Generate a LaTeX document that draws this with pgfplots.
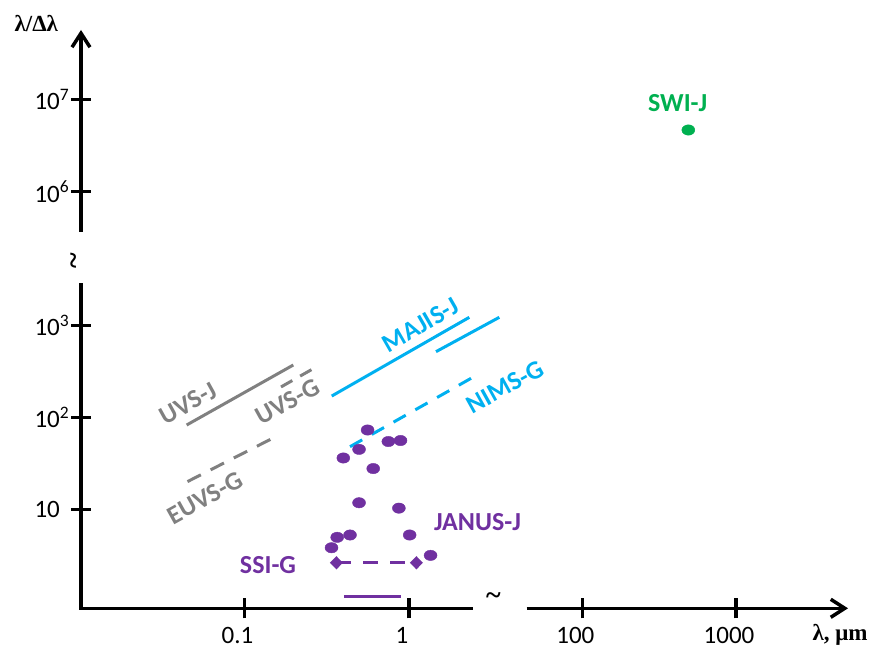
\documentclass[border=0pt]{standalone}
\usepackage{pgfplots}
\pgfplotsset{compat=1.18}
\usepackage{fontspec}
\setmainfont{Carlito}
\newfontfamily\timesf{Liberation Serif}
\usetikzlibrary{arrows.meta}
\definecolor{cgray}{RGB}{128,128,128}
\definecolor{ccyan}{RGB}{0,176,240}
\definecolor{cpurple}{RGB}{112,48,160}
\definecolor{cgreen}{RGB}{0,176,80}
\tikzset{lbl/.style={font=\fontsize{26}{30}\selectfont\bfseries, inner sep=0pt}}
\begin{document}
\begin{tikzpicture}
\path[use as bounding box] (0pt,0pt) rectangle (876pt,648pt);

% lower-left panel
\begin{axis}[scale only axis, anchor=south west, clip=false,
  xmode=log, ymode=log, xminorticks=false, yminorticks=false,
  tick align=inside, major tick length=20pt,
  tick style={line width=3.3pt, black},
  axis line style={draw=none},
  xticklabel style={font=\fontsize{25}{30}\selectfont, inner sep=0pt, anchor=center, yshift=-17pt, xshift=-7pt},
  yticklabel style={font=\fontsize{25}{30}\selectfont, inner sep=0pt, anchor=west, xshift=-36.7pt},
  at={(81pt,39.7pt)}, width=392pt, height=325pt,
  xmin=0.01014, xmax=2.449, ymin=0.848, ymax=2891,
  axis x line=bottom, axis y line=left,
  xtick={0.1,1}, xticklabels={0.1,1},
  ytick={10,100,1000}, yticklabels={10,10\textsuperscript{2},10\textsuperscript{3}},
]
\draw[line width=3.5pt] (rel axis cs:0,1) -- (rel axis cs:0,0) -- (rel axis cs:1,0);
% UVS-J
\addplot[cgray, line width=3pt] coordinates {(0.0445,83.3) (0.198,374)};
% UVS-G
\addplot[cgray, line width=3pt, dash pattern=on 13pt off 9pt] coordinates {(0.1667,216) (0.2797,365)};
% EUVS-G
\addplot[cgray, line width=3pt, dash pattern=on 15pt off 11pt] coordinates {(0.045,20.2) (0.148,59.7)};
% MAJIS-J
\addplot[ccyan, line width=3pt] coordinates {(0.339,172) (2.326,1234)};
\addplot[ccyan, line width=3pt] coordinates {(1.459,522) (3.54,1234)};
% NIMS-G
\addplot[ccyan, line width=3pt, dash pattern=on 14pt off 11pt] coordinates {(0.438,48.4) (2.70,304)};
% JANUS-J
\addplot[cpurple, only marks, mark=*, mark size=5.2pt, mark options={xscale=1.25, draw=cpurple, fill=cpurple}] coordinates {
(0.560,73.5) (0.749,55.1) (0.888,56.5) (0.497,45.3) (0.399,36.5) (0.606,28.0)
(0.497,11.9) (0.868,10.4) (0.438,5.31) (0.366,5.01) (1.009,5.31) (0.338,3.86) (1.352,3.19)};
% SSI-G
\addplot[cpurple, line width=3pt, dash pattern=on 15pt off 12pt, mark=diamond*, mark size=4.5pt, mark options={solid, xscale=1.3, fill=cpurple}] coordinates {(0.362,2.65) (1.109,2.65)};
\addplot[cpurple, line width=3pt] coordinates {(0.402,1.13) (0.897,1.13)};
\end{axis}

% right panel
\begin{axis}[scale only axis, anchor=south west, clip=false,
  xmode=log, ymode=log, xminorticks=false, yminorticks=false,
  tick align=inside, major tick length=20pt,
  tick style={line width=3.3pt, black},
  axis line style={draw=none},
  xticklabel style={font=\fontsize{25}{30}\selectfont, inner sep=0pt, anchor=center, yshift=-17pt, xshift=-7pt},
  at={(526.7pt,39.7pt)}, width=321.3pt, height=100pt,
  xmin=43.45, xmax=5355, ymin=1, ymax=10,
  axis x line=bottom, axis y line=none,
  xtick={100,1000}, xticklabels={100,1000}, ytick=\empty,
]
\draw[line width=3.5pt, -{Straight Barb[length=14pt,width=18pt]}] (rel axis cs:0,0) -- (rel axis cs:1,0);
\end{axis}

% upper panel
\begin{axis}[scale only axis, anchor=south west, clip=false,
  xmode=log, ymode=log, xminorticks=false, yminorticks=false,
  tick align=inside, major tick length=20pt,
  tick style={line width=3.3pt, black},
  axis line style={draw=none},
  yticklabel style={font=\fontsize{25}{30}\selectfont, inner sep=0pt, anchor=west, xshift=-36.7pt},
  at={(81pt,416.3pt)}, width=767pt, height=201.7pt,
  xmin=0.0547, xmax=5355, ymin=3.69e5, ymax=5.62e7,
  axis x line=none, axis y line=left,
  xtick=\empty,
  ytick={1e6,1e7}, yticklabels={10\textsuperscript{6},10\textsuperscript{7}},
]
\draw[line width=3.5pt, -{Straight Barb[length=14pt,width=18pt]}] (rel axis cs:0,0) -- (rel axis cs:0,1);
% SWI-J
\addplot[cgreen, only marks, mark=*, mark size=5.2pt, mark options={xscale=1.25, draw=cgreen, fill=cgreen}] coordinates {(489.5,4.65e6)};
\end{axis}

% break symbols
\node[font=\timesf\bfseries\fontsize{30}{30}\selectfont, rotate=90, inner sep=0pt] at (77pt,387pt) {\char"7E};
\node[font=\timesf\bfseries\fontsize{28}{28}\selectfont, inner sep=0pt] at (493.3pt,49pt) {\char"7E};

% axis titles
\node[font=\timesf\bfseries\fontsize{23}{24}\selectfont, inner sep=0pt] at (36.3pt,624.7pt) {λ/Δλ};
\node[font=\timesf\bfseries\fontsize{23}{24}\selectfont, inner sep=0pt] at (840pt,13pt) {λ,~μm};

% series labels
\node[lbl, text=cgray, rotate=29] at (188.3pt,244.7pt) {UVS-J};
\node[lbl, text=cgray, rotate=29] at (287.3pt,246.3pt) {UVS-G};
\node[lbl, text=cgray, rotate=29] at (205pt,150pt) {EUVS-G};
\node[lbl, text=ccyan, rotate=30] at (420.7pt,323pt) {MAJIS-J};
\node[lbl, text=ccyan, rotate=29] at (505pt,261pt) {NIMS-G};
\node[lbl, text=cpurple] at (477.5pt,126.3pt) {JANUS-J};
\node[lbl, text=cpurple] at (268pt,83pt) {SSI-G};
\node[lbl, text=cgreen] at (677.7pt,544.7pt) {SWI-J};
\end{tikzpicture}
\end{document}
